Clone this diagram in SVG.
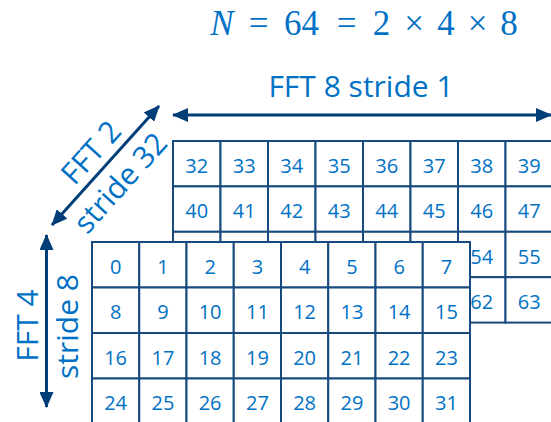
<svg xmlns="http://www.w3.org/2000/svg" width="551" height="422" viewBox="0 0 551 422">
<style>
.t{font-family:"Open Sans","Noto Sans",sans-serif;fill:#0071c5}
.n{font-size:20px;text-anchor:middle}
.lb{font-size:30px}
.m{font-family:"Liberation Serif","DejaVu Serif",serif;font-size:35px;fill:#0071c5;text-anchor:middle}
.cb{fill:#ffffff;stroke:#174b7f;stroke-width:2}
.ar{stroke:#003e78;stroke-width:3;fill:none;marker-start:url(#ah);marker-end:url(#ah)}
</style>
<defs>
<marker id="ah" viewBox="0 0 16 14" refX="15" refY="7" markerWidth="16" markerHeight="14" markerUnits="userSpaceOnUse" orient="auto-start-reverse"><path d="M0,0 L16,7 L0,14 Z" fill="#003e78"/></marker>
</defs>
<rect width="551" height="422" fill="#ffffff"/>
<g id="title">
<text class="m" x="222" y="35" font-style="italic">N</text>
<text class="m" x="258.5" y="35">=</text>
<text class="m" x="301.5" y="35">64</text>
<text class="m" x="346.5" y="35">=</text>
<text class="m" x="381.5" y="35">2</text>
<text class="m" x="414" y="35">×</text>
<text class="m" x="446" y="35">4</text>
<text class="m" x="477.5" y="35">×</text>
<text class="m" x="509" y="35">8</text>
</g>
<g id="labels">
<text class="t lb" x="361" y="97" text-anchor="middle">FFT 8 stride 1</text>
<g transform="translate(105.5,165.5) rotate(-48)">
<text class="t lb" x="0" y="-9" text-anchor="middle">FFT 2</text>
<text class="t lb" x="-3" y="33" text-anchor="middle">stride 32</text>
</g>
<text class="t lb" transform="translate(38,325.5) rotate(-90)" text-anchor="middle">FFT 4</text>
<text class="t lb" transform="translate(78,326.5) rotate(-90)" text-anchor="middle">stride 8</text>
</g>
<g id="back-grid">
<g id="c32"><rect class="cb" x="173" y="141" width="47.5" height="45.4"/><text class="t n" x="196.75" y="172.7">32</text></g>
<g id="c33"><rect class="cb" x="220.5" y="141" width="47.5" height="45.4"/><text class="t n" x="244.25" y="172.7">33</text></g>
<g id="c34"><rect class="cb" x="268" y="141" width="47.5" height="45.4"/><text class="t n" x="291.75" y="172.7">34</text></g>
<g id="c35"><rect class="cb" x="315.5" y="141" width="47.5" height="45.4"/><text class="t n" x="339.25" y="172.7">35</text></g>
<g id="c36"><rect class="cb" x="363" y="141" width="47.5" height="45.4"/><text class="t n" x="386.75" y="172.7">36</text></g>
<g id="c37"><rect class="cb" x="410.5" y="141" width="47.5" height="45.4"/><text class="t n" x="434.25" y="172.7">37</text></g>
<g id="c38"><rect class="cb" x="458" y="141" width="47.5" height="45.4"/><text class="t n" x="481.75" y="172.7">38</text></g>
<g id="c39"><rect class="cb" x="505.5" y="141" width="47.5" height="45.4"/><text class="t n" x="529.25" y="172.7">39</text></g>
<g id="c40"><rect class="cb" x="173" y="186.4" width="47.5" height="45.4"/><text class="t n" x="196.75" y="218.1">40</text></g>
<g id="c41"><rect class="cb" x="220.5" y="186.4" width="47.5" height="45.4"/><text class="t n" x="244.25" y="218.1">41</text></g>
<g id="c42"><rect class="cb" x="268" y="186.4" width="47.5" height="45.4"/><text class="t n" x="291.75" y="218.1">42</text></g>
<g id="c43"><rect class="cb" x="315.5" y="186.4" width="47.5" height="45.4"/><text class="t n" x="339.25" y="218.1">43</text></g>
<g id="c44"><rect class="cb" x="363" y="186.4" width="47.5" height="45.4"/><text class="t n" x="386.75" y="218.1">44</text></g>
<g id="c45"><rect class="cb" x="410.5" y="186.4" width="47.5" height="45.4"/><text class="t n" x="434.25" y="218.1">45</text></g>
<g id="c46"><rect class="cb" x="458" y="186.4" width="47.5" height="45.4"/><text class="t n" x="481.75" y="218.1">46</text></g>
<g id="c47"><rect class="cb" x="505.5" y="186.4" width="47.5" height="45.4"/><text class="t n" x="529.25" y="218.1">47</text></g>
<g id="c48"><rect class="cb" x="173" y="231.8" width="47.5" height="45.4"/></g>
<g id="c49"><rect class="cb" x="220.5" y="231.8" width="47.5" height="45.4"/></g>
<g id="c50"><rect class="cb" x="268" y="231.8" width="47.5" height="45.4"/></g>
<g id="c51"><rect class="cb" x="315.5" y="231.8" width="47.5" height="45.4"/></g>
<g id="c52"><rect class="cb" x="363" y="231.8" width="47.5" height="45.4"/></g>
<g id="c53"><rect class="cb" x="410.5" y="231.8" width="47.5" height="45.4"/></g>
<g id="c54"><rect class="cb" x="458" y="231.8" width="47.5" height="45.4"/><text class="t n" x="481.75" y="263.5">54</text></g>
<g id="c55"><rect class="cb" x="505.5" y="231.8" width="47.5" height="45.4"/><text class="t n" x="529.25" y="263.5">55</text></g>
<g id="c56"><rect class="cb" x="173" y="277.2" width="47.5" height="45.4"/></g>
<g id="c57"><rect class="cb" x="220.5" y="277.2" width="47.5" height="45.4"/></g>
<g id="c58"><rect class="cb" x="268" y="277.2" width="47.5" height="45.4"/></g>
<g id="c59"><rect class="cb" x="315.5" y="277.2" width="47.5" height="45.4"/></g>
<g id="c60"><rect class="cb" x="363" y="277.2" width="47.5" height="45.4"/></g>
<g id="c61"><rect class="cb" x="410.5" y="277.2" width="47.5" height="45.4"/></g>
<g id="c62"><rect class="cb" x="458" y="277.2" width="47.5" height="45.4"/><text class="t n" x="481.75" y="308.9">62</text></g>
<g id="c63"><rect class="cb" x="505.5" y="277.2" width="47.5" height="45.4"/><text class="t n" x="529.25" y="308.9">63</text></g>
</g>
<g id="front-grid">
<g id="c0"><rect class="cb" x="92" y="242" width="47.25" height="45.5"/><text class="t n" x="115.6" y="273.7">0</text></g>
<g id="c1"><rect class="cb" x="139.25" y="242" width="47.25" height="45.5"/><text class="t n" x="162.9" y="273.7">1</text></g>
<g id="c2"><rect class="cb" x="186.5" y="242" width="47.25" height="45.5"/><text class="t n" x="210.1" y="273.7">2</text></g>
<g id="c3"><rect class="cb" x="233.75" y="242" width="47.25" height="45.5"/><text class="t n" x="257.4" y="273.7">3</text></g>
<g id="c4"><rect class="cb" x="281" y="242" width="47.25" height="45.5"/><text class="t n" x="304.6" y="273.7">4</text></g>
<g id="c5"><rect class="cb" x="328.25" y="242" width="47.25" height="45.5"/><text class="t n" x="351.9" y="273.7">5</text></g>
<g id="c6"><rect class="cb" x="375.5" y="242" width="47.25" height="45.5"/><text class="t n" x="399.1" y="273.7">6</text></g>
<g id="c7"><rect class="cb" x="422.75" y="242" width="47.25" height="45.5"/><text class="t n" x="446.4" y="273.7">7</text></g>
<g id="c8"><rect class="cb" x="92" y="287.5" width="47.25" height="45.5"/><text class="t n" x="115.6" y="319.2">8</text></g>
<g id="c9"><rect class="cb" x="139.25" y="287.5" width="47.25" height="45.5"/><text class="t n" x="162.9" y="319.2">9</text></g>
<g id="c10"><rect class="cb" x="186.5" y="287.5" width="47.25" height="45.5"/><text class="t n" x="210.1" y="319.2">10</text></g>
<g id="c11"><rect class="cb" x="233.75" y="287.5" width="47.25" height="45.5"/><text class="t n" x="257.4" y="319.2">11</text></g>
<g id="c12"><rect class="cb" x="281" y="287.5" width="47.25" height="45.5"/><text class="t n" x="304.6" y="319.2">12</text></g>
<g id="c13"><rect class="cb" x="328.25" y="287.5" width="47.25" height="45.5"/><text class="t n" x="351.9" y="319.2">13</text></g>
<g id="c14"><rect class="cb" x="375.5" y="287.5" width="47.25" height="45.5"/><text class="t n" x="399.1" y="319.2">14</text></g>
<g id="c15"><rect class="cb" x="422.75" y="287.5" width="47.25" height="45.5"/><text class="t n" x="446.4" y="319.2">15</text></g>
<g id="c16"><rect class="cb" x="92" y="333" width="47.25" height="45.5"/><text class="t n" x="115.6" y="364.7">16</text></g>
<g id="c17"><rect class="cb" x="139.25" y="333" width="47.25" height="45.5"/><text class="t n" x="162.9" y="364.7">17</text></g>
<g id="c18"><rect class="cb" x="186.5" y="333" width="47.25" height="45.5"/><text class="t n" x="210.1" y="364.7">18</text></g>
<g id="c19"><rect class="cb" x="233.75" y="333" width="47.25" height="45.5"/><text class="t n" x="257.4" y="364.7">19</text></g>
<g id="c20"><rect class="cb" x="281" y="333" width="47.25" height="45.5"/><text class="t n" x="304.6" y="364.7">20</text></g>
<g id="c21"><rect class="cb" x="328.25" y="333" width="47.25" height="45.5"/><text class="t n" x="351.9" y="364.7">21</text></g>
<g id="c22"><rect class="cb" x="375.5" y="333" width="47.25" height="45.5"/><text class="t n" x="399.1" y="364.7">22</text></g>
<g id="c23"><rect class="cb" x="422.75" y="333" width="47.25" height="45.5"/><text class="t n" x="446.4" y="364.7">23</text></g>
<g id="c24"><rect class="cb" x="92" y="378.5" width="47.25" height="45.5"/><text class="t n" x="115.6" y="410.2">24</text></g>
<g id="c25"><rect class="cb" x="139.25" y="378.5" width="47.25" height="45.5"/><text class="t n" x="162.9" y="410.2">25</text></g>
<g id="c26"><rect class="cb" x="186.5" y="378.5" width="47.25" height="45.5"/><text class="t n" x="210.1" y="410.2">26</text></g>
<g id="c27"><rect class="cb" x="233.75" y="378.5" width="47.25" height="45.5"/><text class="t n" x="257.4" y="410.2">27</text></g>
<g id="c28"><rect class="cb" x="281" y="378.5" width="47.25" height="45.5"/><text class="t n" x="304.6" y="410.2">28</text></g>
<g id="c29"><rect class="cb" x="328.25" y="378.5" width="47.25" height="45.5"/><text class="t n" x="351.9" y="410.2">29</text></g>
<g id="c30"><rect class="cb" x="375.5" y="378.5" width="47.25" height="45.5"/><text class="t n" x="399.1" y="410.2">30</text></g>
<g id="c31"><rect class="cb" x="422.75" y="378.5" width="47.25" height="45.5"/><text class="t n" x="446.4" y="410.2">31</text></g>
</g>
<g id="connectors">
<line class="ar" x1="173" y1="115" x2="551" y2="115"/>
<line class="ar" x1="52" y1="225" x2="159" y2="106"/>
<line class="ar" x1="46.5" y1="235" x2="46.5" y2="407"/>
</g>
</svg>
